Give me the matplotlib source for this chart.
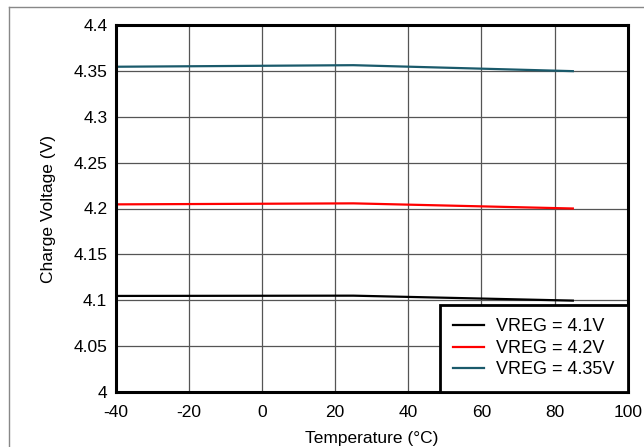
import matplotlib
matplotlib.use('Agg')
import matplotlib.pyplot as plt
from matplotlib.lines import Line2D

plt.rcParams['font.family'] = ['Liberation Sans', 'DejaVu Sans']
plt.rcParams['axes.unicode_minus'] = False

# данные
temp = [-40, 25, 85]
vreg_41 = [4.1047, 4.1050, 4.0996]
vreg_42 = [4.2045, 4.2056, 4.2000]
vreg_435 = [4.3545, 4.3562, 4.3497]

x_ticks = [-40, -20, 0, 20, 40, 60, 80, 100]
y_ticks = [4.0, 4.05, 4.1, 4.15, 4.2, 4.25, 4.3, 4.35, 4.4]
y_labels = ['4', '4.05', '4.1', '4.15', '4.2', '4.25', '4.3', '4.35', '4.4']

W, H = 644, 447
fig = plt.figure(figsize=(W / 100, H / 100), dpi=100)
ax = fig.add_axes([115.7 / W, 1 - 392 / H, (627.7 - 115.7) / W, (392 - 25) / H])

ax.plot(temp, vreg_41, color='black', lw=1.6, label='VREG = 4.1V')
ax.plot(temp, vreg_42, color='#ff0000', lw=1.6, label='VREG = 4.2V')
ax.plot(temp, vreg_435, color='#1a5a6b', lw=1.6, label='VREG = 4.35V')

ax.set_xlim(-40, 100)
ax.set_ylim(4.0, 4.4)
ax.set_xticks(x_ticks)
ax.set_yticks(y_ticks)
ax.set_yticklabels(y_labels)
ax.tick_params(length=0, labelsize=12.5)
ax.tick_params(axis='x', pad=9.5)
ax.tick_params(axis='y', pad=6)
ax.grid(True, color='#555555', lw=0.9)
ax.set_axisbelow(True)
for s in ax.spines.values():
    s.set_linewidth(2.2)

ax.set_xlabel('Temperature (°C)', fontsize=12.5, labelpad=8)
ax.set_ylabel('Charge Voltage (V)', fontsize=12.5, labelpad=12.5)

leg = ax.legend(loc='lower right', fontsize=13, frameon=True, fancybox=False,
                borderaxespad=0, handlelength=1.7, handletextpad=0.65,
                labelspacing=0.25, borderpad=0.75)
leg.get_frame().set_edgecolor('black')
leg.get_frame().set_linewidth(2.0)
leg.get_frame().set_alpha(1)

# рамка изображения
fig.add_artist(Line2D([9 / W, 9 / W], [0, 1 - 7 / H], color='#888888', lw=1, transform=fig.transFigure))
fig.add_artist(Line2D([9 / W, 1], [1 - 7 / H, 1 - 7 / H], color='#888888', lw=1, transform=fig.transFigure))

fig.savefig('out.png', dpi=100)
